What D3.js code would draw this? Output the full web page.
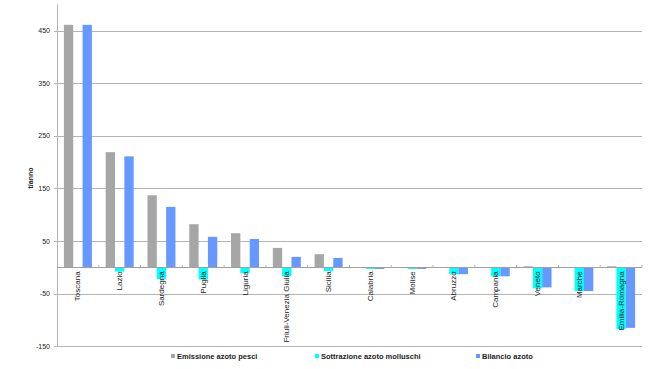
<!DOCTYPE html>
<html>
<head>
<meta charset="UTF-8">
<title>Bilancio azoto</title>
<style>
    body { margin: 0; background: white; font-family: "Liberation Sans", Arial, sans-serif; }
    svg { display: block; }
    .grid line { stroke: #b4b4b4; stroke-width: 1px; }
    .cat { font-size: 8px; fill: #222; }
    .ytick { font-size: 7px; fill: #222; }
    .legend text { font-size: 7.5px; font-weight: bold; fill: #222; }
</style>
</head>
<body>
<script src="https://d3js.org/d3.v7.min.js"></script>
<script>
    var regions = ["Toscana", "Lazio", "Sardegna", "Puglia", "Liguria", "Friuli-Venezia Giulia", "Sicilia",
        "Calabria", "Molise", "Abruzzo", "Campania", "Veneto", "Marche", "Emilia-Romagna"];
    var pesci = [461, 219, 137, 82, 65, 37, 25, 0, 0, 0, 0, 2, 0, 2];
    var molluschi = [0, -8, -22, -23, -11, -17, -7, -3, -3, -13, -17, -40, -45, -117];
    var bilancio = [461, 211, 115, 58, 54, 20, 18, -3, -3, -13, -17, -38, -45, -115];
    var seriesNames = ["Emissione azoto pesci", "Sottrazione azoto molluschi", "Bilancio azoto"];
    var colors = ["#a6a6a6", "#00ffff", "#6699ff"];
    var yTicks = [450, 350, 250, 150, 50, -50, -150];

    var width = 650, height = 369;
    var plotLeft = 57, plotRight = 642, plotTop = 4.3, plotBottom = 346.3;

    var svg = d3.select("body").append("svg")
        .attr("width", width)
        .attr("height", height);

    var x = d3.scaleBand().domain(regions).range([plotLeft, plotRight]).paddingInner(0).paddingOuter(0);
    var inner = d3.scaleBand().domain([0, 1, 2])
        .range([x.bandwidth() * 0.165, x.bandwidth() * 0.835]);
    var y = d3.scaleLinear().domain([-150, 500]).range([plotBottom, plotTop]);

    // gridlines
    var grid = svg.append("g").attr("class", "grid");
    grid.selectAll("line").data(yTicks).enter().append("line")
        .attr("x1", plotLeft).attr("x2", plotRight)
        .attr("y1", function(d) { return Math.round(y(d)) + 0.5; })
        .attr("y2", function(d) { return Math.round(y(d)) + 0.5; });

    // y tick labels and ticks
    svg.selectAll(".ytick").data(yTicks).enter().append("text")
        .attr("class", "ytick")
        .attr("x", 50)
        .attr("y", function(d) { return y(d) + 2.5; })
        .attr("text-anchor", "end")
        .text(function(d) { return d; });
    svg.selectAll(".ytk").data(yTicks).enter().append("line")
        .attr("x1", plotLeft - 3).attr("x2", plotLeft)
        .attr("y1", function(d) { return Math.round(y(d)) + 0.5; })
        .attr("y2", function(d) { return Math.round(y(d)) + 0.5; })
        .attr("stroke", "#b4b4b4");

    // bars
    var series = [pesci, molluschi, bilancio];
    series.forEach(function(vals, si) {
        svg.append("g").selectAll("rect").data(vals).enter().append("rect")
            .attr("x", function(d, i) { return x(regions[i]) + inner(si); })
            .attr("width", inner.bandwidth())
            .attr("y", function(d) { return y(Math.max(0, d)); })
            .attr("height", function(d) { return Math.abs(y(d) - y(0)); })
            .attr("fill", colors[si]);
    });

    // y axis line and zero line
    svg.append("line")
        .attr("x1", plotLeft + 0.5).attr("x2", plotLeft + 0.5)
        .attr("y1", plotTop).attr("y2", plotBottom)
        .attr("stroke", "#b4b4b4");
    svg.append("line")
        .attr("x1", plotLeft).attr("x2", plotRight)
        .attr("y1", Math.round(y(0)) + 0.5).attr("y2", Math.round(y(0)) + 0.5)
        .attr("stroke", "#a0a0a0");
    svg.selectAll(".xtk").data(regions).enter().append("line")
        .attr("x1", function(d) { return x(d) + x.bandwidth(); })
        .attr("x2", function(d) { return x(d) + x.bandwidth(); })
        .attr("y1", Math.round(y(0)) - 2).attr("y2", Math.round(y(0)) + 0.5)
        .attr("stroke", "#b4b4b4");

    // category labels
    svg.selectAll(".cat").data(regions).enter().append("text")
        .attr("class", "cat")
        .attr("text-anchor", "end")
        .attr("transform", function(d) {
            return "translate(" + (x(d) + x.bandwidth() / 2 + 2.5) + "," + (y(0) + 4) + ") rotate(-90)";
        })
        .text(function(d) { return d; });

    // y title
    svg.append("text")
        .attr("transform", "translate(33,178) rotate(-90)")
        .attr("text-anchor", "middle")
        .style("font-size", "7px")
        .style("font-weight", "bold")
        .attr("fill", "#222")
        .text("t/anno");

    // legend
    var legendX = [171, 315, 476];
    var legend = svg.append("g").attr("class", "legend");
    seriesNames.forEach(function(name, i) {
        legend.append("rect")
            .attr("x", legendX[i]).attr("y", 354)
            .attr("width", 4).attr("height", 4)
            .attr("fill", colors[i]);
        legend.append("text")
            .attr("x", legendX[i] + 6).attr("y", 359)
            .text(name);
    });
</script>
</body>
</html>
